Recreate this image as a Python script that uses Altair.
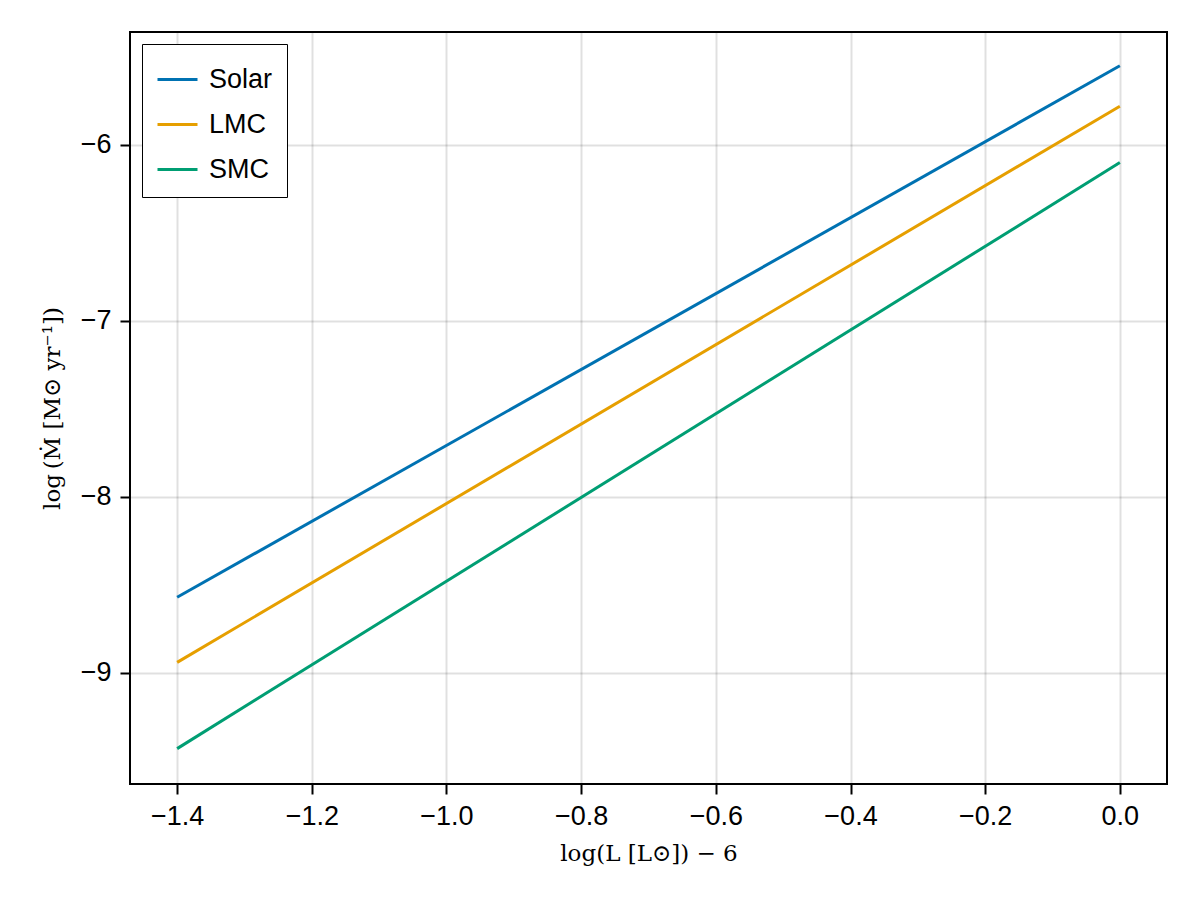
import altair as alt
import pandas as pd

# endpoints of each relation
series = ["Solar", "LMC", "SMC"]
log_l = [-1.4, 0.0]
solar_mdot = [-8.57, -5.55]
lmc_mdot = [-8.94, -5.78]
smc_mdot = [-9.43, -6.10]
colors = ["#0072B2", "#E69F00", "#009E73"]

x_ticks = [-1.4, -1.2, -1.0, -0.8, -0.6, -0.4, -0.2, 0.0]
y_ticks = [-9, -8, -7, -6]

rows = []
for name, vals in zip(series, [solar_mdot, lmc_mdot, smc_mdot]):
    for x, y in zip(log_l, vals):
        rows.append({"series": name, "logL": x, "mdot": y})
df = pd.DataFrame(rows)

chart = alt.Chart(df).mark_line(strokeWidth=3).encode(
    x=alt.X("logL:Q",
            scale=alt.Scale(domain=[-1.47, 0.07], nice=False, zero=False),
            axis=alt.Axis(values=x_ticks, format=".1f",
                          title="log(L [L\u2299]) \u2212 6")),
    y=alt.Y("mdot:Q",
            scale=alt.Scale(domain=[-9.631, -5.358], nice=False, zero=False),
            axis=alt.Axis(values=y_ticks, format="d",
                          title="log\u2009(\u1E40 [M\u2299 yr\u207B\u00B9])")),
    color=alt.Color("series:N",
                    scale=alt.Scale(domain=series, range=colors),
                    sort=series,
                    legend=alt.Legend(title=None, orient="none",
                                      legendX=12, legendY=12,
                                      symbolType="stroke", symbolSize=1600,
                                      symbolStrokeWidth=3,
                                      labelFont="Liberation Sans",
                                      labelFontSize=27, labelColor="black",
                                      labelOffset=10,
                                      rowPadding=10, padding=14,
                                      strokeColor="black", fillColor="white")),
).properties(
    width=1037,
    height=752,
    background="white",
    autosize=alt.AutoSizeParams(type="none"),
    padding={"left": 122, "top": 24, "right": 25, "bottom": 100},
).configure_view(
    stroke="black", strokeWidth=2,
).configure_axis(
    grid=True, gridColor="black", gridOpacity=0.12, gridWidth=2,
    domain=False, tickColor="black", tickSize=10, tickWidth=2,
    labelFont="Liberation Sans", labelFontSize=27, labelColor="black",
    labelPadding=9,
    titleFont="DejaVu Serif", titleFontSize=23, titleFontWeight="normal",
    titleColor="black",
).configure_axisX(
    titlePadding=13,
).configure_axisY(
    titlePadding=16,
)

chart.save("out.html", embed_options={"renderer": "svg", "actions": False})
